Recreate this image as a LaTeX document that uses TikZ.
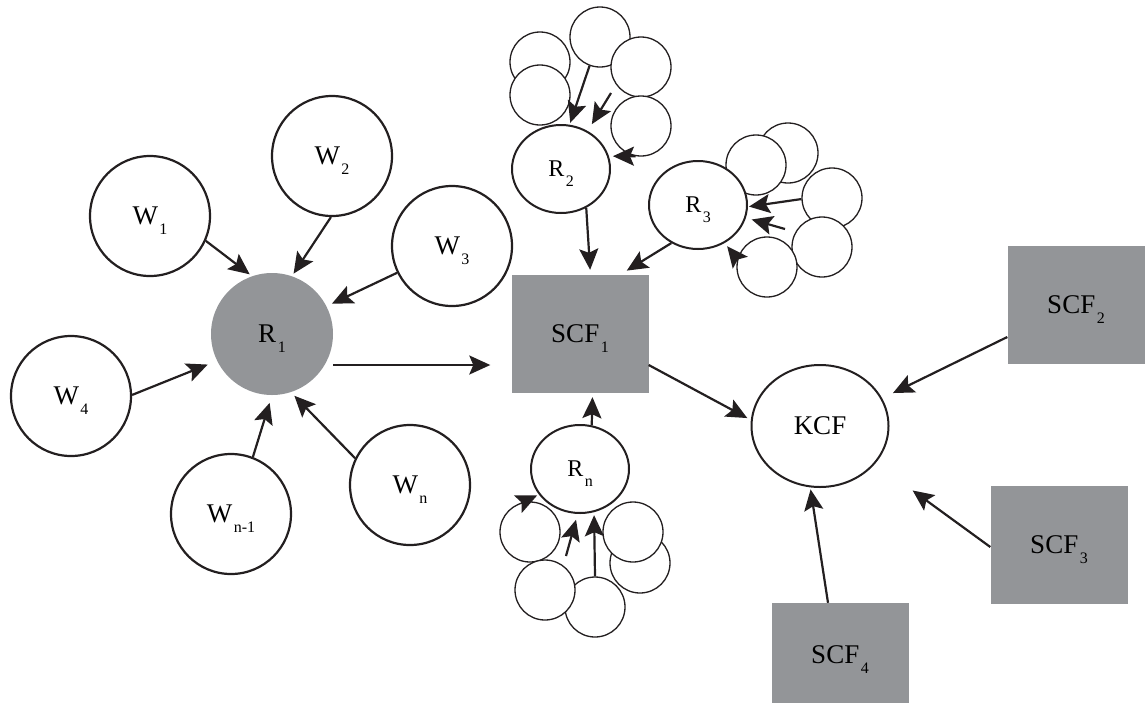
\documentclass[tikz,border=0pt]{standalone}
\usepackage{fontspec}
\setmainfont{Liberation Serif}
\usepackage{xcolor}
\usetikzlibrary{arrows.meta, shapes.geometric}
\definecolor{kgray}{HTML}{939598}
\definecolor{kink}{HTML}{231F20}
\newcommand{\lowsub}[1]{\kern1.5pt\raisebox{-10pt}[0pt][0pt]{\fontsize{16}{16}\selectfont #1}}

\begin{document}
\begin{tikzpicture}[x=1pt, y=-1pt,
  wnode/.style={circle, draw=kink, line width=2.2pt, fill=white, minimum size=120pt, inner sep=0pt, font=\fontsize{27}{27}\selectfont},
  hubnode/.style={circle, fill=kgray, minimum size=122pt, inner sep=0pt, font=\fontsize{27}{27}\selectfont},
  rnode/.style={ellipse, draw=kink, line width=2pt, fill=white, minimum width=98pt, minimum height=88pt, inner sep=0pt, font=\fontsize{24}{24}\selectfont},
  kcfnode/.style={ellipse, draw=kink, line width=2pt, fill=white, minimum width=137pt, minimum height=122pt, inner sep=0pt, font=\fontsize{27}{27}\selectfont},
  scfnode/.style={rectangle, fill=kgray, minimum width=137pt, minimum height=118pt, inner sep=0pt, font=\fontsize{27}{27}\selectfont},
  leaf/.style={circle, draw=kink, line width=1.3pt, fill=white, minimum size=60pt, inner sep=0pt},
  arr/.style={draw=kink, line width=2.2pt, -{Stealth[length=21pt, width=19pt, inset=4pt]}}]
\useasboundingbox (0,0) rectangle (1145,702);

\node[wnode] (W1) at (150,216) {W\lowsub{1}};
\node[wnode] (W2) at (332,156) {W\lowsub{2}};
\node[wnode] (W3) at (452,246) {W\lowsub{3}};
\node[wnode] (W4) at (71,396) {W\lowsub{4}};
\node[wnode] (Wm) at (231,514) {W\lowsub{n-1}};
\node[wnode] (Wn) at (410,485) {W\lowsub{n}};
\node[hubnode] (R1) at (272,334) {R\lowsub{1}};

\node[scfnode] (SCF1) at (580,334) {SCF\lowsub{1}};
\node[scfnode] (SCF2) at (1076,305) {SCF\lowsub{2}};
\node[scfnode] (SCF3) at (1059,545) {SCF\lowsub{3}};
\node[scfnode, minimum height=104pt] (SCF4) at (840,655) {SCF\lowsub{4}};
\node[kcfnode] (KCF) at (820,426) {KCF};

\node[leaf] (a) at (540,62) {};
\node[leaf] (b) at (540,95) {};
\node[leaf] (c) at (600,37) {};
\node[leaf] (d) at (641,67) {};
\node[leaf] (e) at (641,126) {};
\node[leaf] (f) at (788,153) {};
\node[leaf] (g) at (756,165) {};
\node[leaf] (h) at (832,198) {};
\node[leaf] (i) at (822,247) {};
\node[leaf] (j) at (767,267) {};
\node[leaf] (k) at (530,532) {};
\node[leaf] (m) at (595,607) {};
\node[leaf] (l) at (545,590) {};
\node[leaf] (p) at (640,563) {};
\node[leaf] (q) at (633,532) {};

\node[rnode] (R2) at (561,169) {R\lowsub{2}};
\node[rnode] (R3) at (698,205) {R\lowsub{3}};
\node[rnode] (Rn) at (580,469) {R\lowsub{n}};

\coordinate (s2) at (611,93);
\coordinate (s3) at (785,229);
\coordinate (sn) at (566,556);

\draw[arr, shorten >=2pt] (c.-110) -- (R2.79);
\draw[arr, shorten >=8pt] (s2) -- (R2.55);
\draw[arr, shorten >=4pt] (e.-100) -- (R2.15);
\draw[arr, shorten >=1pt] (h.182) -- (R3.-2);
\draw[arr, shorten >=6pt] (s3) -- (R3.-15);
\draw[arr, shorten >=4pt] (j.165) -- (R3.-55);
\draw[arr, shorten >=6pt] (sn) -- (Rn.-93);
\draw[arr, shorten >=3pt] (m.90) -- (Rn.-72);
\draw[arr, shorten >=2pt] (k.107) -- (Rn.-148);

\draw[arr, shorten >=8pt] (R3.-125) -- (SCF1.56);
\draw[arr, shorten >=5pt] (R2.-57) -- (SCF1.80);
\draw[arr, shorten >=4pt] (Rn.75) -- (SCF1.-78);

\draw[arr, shorten >=3pt] (W1.-24) -- (R1.109);
\draw[arr, shorten >=3pt] (W2.-91) -- (R1.71);
\draw[arr, shorten >=6pt] (W3.206) -- (R1.27);
\draw[arr, shorten >=10pt] (W4.1) -- (R1.206);
\draw[arr, shorten >=8pt] (Wm.69) -- (R1.-90);
\draw[arr, shorten >=5pt] (Wn.154) -- (R1.-72);
\draw[arr, shorten >=21pt] ([yshift=-31pt]R1.east) -- ([yshift=-31pt]SCF1.west);

\draw[arr, shorten >=4pt] ([yshift=-31pt]SCF1.east) -- (KCF.175);
\draw[arr, shorten >=12pt] ([yshift=-32pt]SCF2.west) -- (KCF.24);
\draw[arr, shorten >=46pt] ([yshift=-2pt]SCF3.west) -- (KCF.-34.5);
\draw[arr, shorten >=2pt] ([xshift=-12pt]SCF4.north) -- (KCF.-99);
\end{tikzpicture}
\end{document}
